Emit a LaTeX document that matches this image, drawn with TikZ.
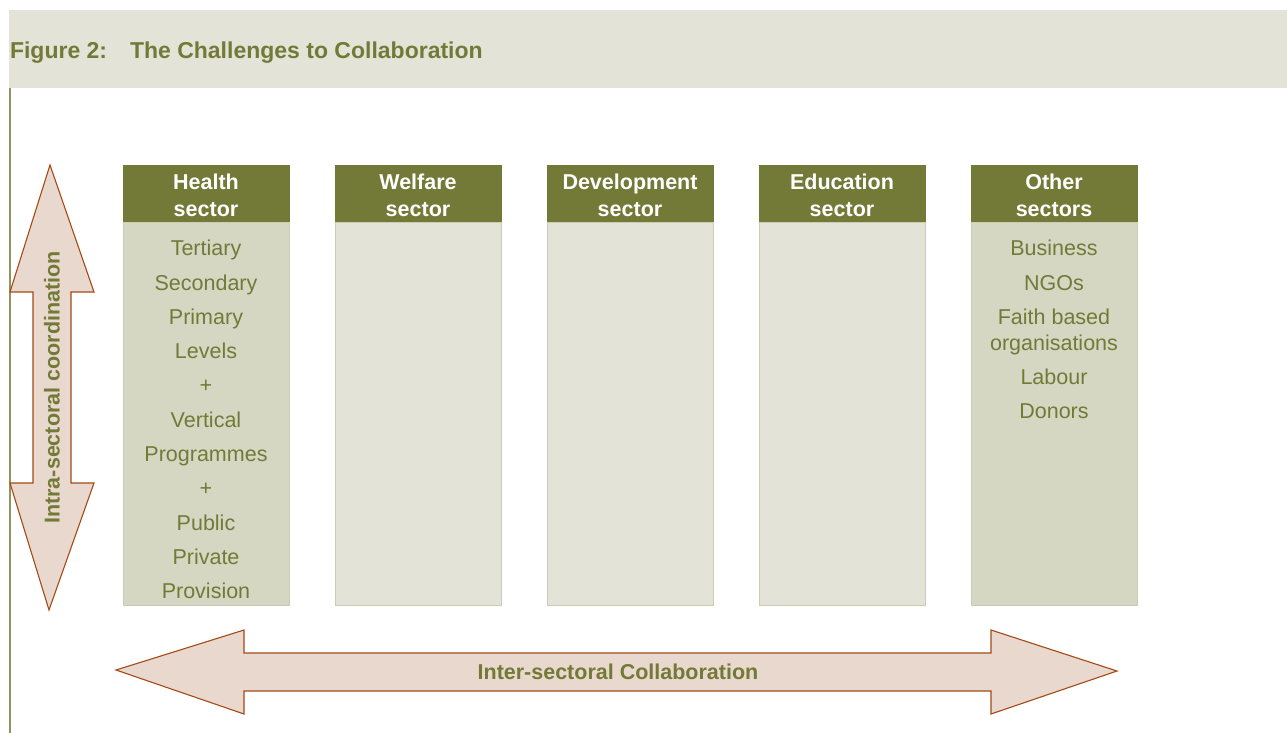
\documentclass[tikz,border=0pt]{standalone}
\usepackage{fontspec}
\setmainfont{Liberation Sans}
\usetikzlibrary{
    positioning,
    calc
}

\definecolor{olive}{RGB}{115,122,55}
\definecolor{bandgrey}{RGB}{227,227,216}
\definecolor{bodydark}{RGB}{213,215,195}
\definecolor{bodylight}{RGB}{227,227,216}
\definecolor{bodyline}{RGB}{202,205,181}
\definecolor{arrowfill}{RGB}{232,216,206}
\definecolor{arrowline}{RGB}{164,74,22}

\begin{document}
\begin{tikzpicture}[
    x=1pt, y=-1pt,
    title/.style={
        text=olive, font=\bfseries\fontsize{23}{27}\selectfont,
        inner sep=0pt, outer sep=0pt
    },
    sechead/.style={
        fill=olive, draw=olive, text=white, rectangle, align=center,
        minimum width=166pt, minimum height=57pt, inner sep=0pt, outer sep=0pt,
        text height=46.5pt,
        font=\bfseries\fontsize{21.5}{27}\selectfont
    },
    secbody/.style={
        fill=bodylight, draw=bodyline, rectangle,
        minimum width=166pt, minimum height=383pt, inner sep=0pt, outer sep=0pt
    },
    items/.style={
        text=olive, align=center, inner sep=0pt,
        font=\fontsize{21.5}{34.3}\selectfont
    },
    bigarrow/.style={fill=arrowfill, draw=arrowline, line width=1.1pt, line join=miter},
    arrowlabel/.style={text=olive, font=\bfseries\fontsize{21.5}{26}\selectfont, inner sep=0pt}
]
\useasboundingbox (0,0) rectangle (1287,733);

% Heading band
\fill[bandgrey] (9,10) rectangle (1287,88);
\draw[olive!80!white, line width=1.2pt] (10,88) -- (10,733);
\node[title, anchor=base west] (fig_no) at (10,59) {Figure 2:};
\node[title, anchor=base west] (fig_title) at (130,59) {The Challenges to Collaboration};

% ============================== SECTORS ==============================
\node[sechead, anchor=north west] (health_head) at (123,165) {Health\\sector};
\node[secbody, fill=bodydark, below=0pt of health_head] (health_body) {};
\node[sechead, right=46pt of health_head] (welfare_head) {Welfare\\sector};
\node[secbody, below=0pt of welfare_head] (welfare_body) {};
\node[sechead, right=46pt of welfare_head] (dev_head) {Development\\sector};
\node[secbody, below=0pt of dev_head] (dev_body) {};
\node[sechead, right=46pt of dev_head] (edu_head) {Education\\sector};
\node[secbody, below=0pt of edu_head] (edu_body) {};
\node[sechead, right=46pt of edu_head] (other_head) {Other\\sectors};
\node[secbody, fill=bodydark, below=0pt of other_head] (other_body) {};

% Sector contents
\node[items, below=18pt of health_body.north] (health_items)
    {Tertiary\\Secondary\\Primary\\Levels\\+\\Vertical\\Programmes\\+\\Public\\Private\\Provision};
\node[items, below=18pt of other_body.north] (other_items)
    {Business\\NGOs\\Faith based\\[-8.3pt]organisations\\Labour\\Donors};

% ============================== ARROWS ==============================
% Intra-sectoral (vertical)
\draw[bigarrow] (50,165) -- (94,292) -- (71,292) -- (71,483) -- (94,483) -- (49,610)
    -- (10,483) -- (33,483) -- (33,292) -- (10,292) -- cycle;
\node[arrowlabel, rotate=90] (intra_label) at (52,387.5) {Intra-sectoral coordination};

% Inter-sectoral (horizontal)
\draw[bigarrow] (116,670) -- (244,630) -- (244,653) -- (991,653) -- (991,630) -- (1117,671)
    -- (991,714) -- (991,691) -- (244,691) -- (244,714) -- cycle;
\node[arrowlabel] (inter_label) at (618,672) {Inter-sectoral Collaboration};

\end{tikzpicture}
\end{document}
